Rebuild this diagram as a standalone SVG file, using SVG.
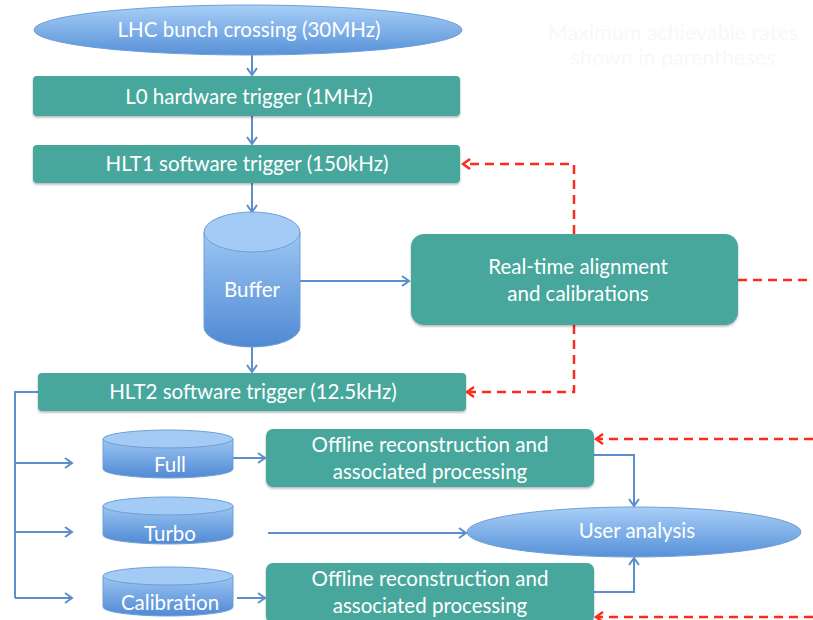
<svg xmlns="http://www.w3.org/2000/svg" width="813" height="620" viewBox="0 0 813 620">
<style>
.t{font-family:Lato,"Open Sans","Liberation Sans",sans-serif;fill:#ffffff;text-anchor:middle;font-size:20.5px}
.box{fill:#46a79d;filter:url(#sh)}
.ell{fill:url(#gb);stroke:#6f9fd6;stroke-width:1}
.cyl{fill:url(#gc);stroke:#6f9fd6;stroke-width:1}
.top{fill:#a3cbf5;stroke:#6f9fd6;stroke-width:1}
.c{fill:none;stroke:#5b8ecd;stroke-width:2;marker-end:url(#ab)}
.cn{fill:none;stroke:#5b8ecd;stroke-width:2}
.r{fill:none;stroke:#ff2a1a;stroke-width:2.5;stroke-dasharray:9 6}
.ra{fill:none;stroke:#ff2a1a;stroke-width:2.5;stroke-dasharray:9 6;marker-end:url(#ar)}
.faint{font-family:Lato,"Open Sans","Liberation Sans",sans-serif;fill:#f8f8f8;text-anchor:middle;font-size:21.5px}
</style>
<defs>
<linearGradient id="gb" x1="0" y1="0" x2="0" y2="1"><stop offset="0" stop-color="#a8cff7"/><stop offset="1" stop-color="#5791d8"/></linearGradient>
<linearGradient id="gc" x1="0" y1="0" x2="0" y2="1"><stop offset="0" stop-color="#9cc6f3"/><stop offset="1" stop-color="#5089d4"/></linearGradient>
<filter id="sh" x="-5%" y="-20%" width="110%" height="150%"><feDropShadow dx="0" dy="1.5" stdDeviation="1.2" flood-color="#000" flood-opacity="0.3"/></filter>
<marker id="ab" viewBox="0 0 12 12" refX="10" refY="6" markerWidth="12" markerHeight="12" markerUnits="userSpaceOnUse" orient="auto"><path d="M3,1 L10,6 L3,11" fill="none" stroke="#5b8ecd" stroke-width="2"/></marker>
<marker id="ar" viewBox="0 0 12 12" refX="10" refY="6" markerWidth="12" markerHeight="12" markerUnits="userSpaceOnUse" orient="auto"><path d="M3,1 L10,6 L3,11" fill="none" stroke="#ff2a1a" stroke-width="2.5"/></marker>
</defs>
<rect width="813" height="620" fill="#ffffff"/>
<text class="faint" x="673" y="40">Maximum achievable rates</text>
<text class="faint" x="673" y="65">shown in parentheses</text>
<g id="connectors">
<line class="c" x1="252" y1="55" x2="252" y2="75"/>
<line class="c" x1="252" y1="116" x2="252" y2="144"/>
<line class="c" x1="252" y1="183" x2="252" y2="212"/>
<line class="c" x1="252" y1="347" x2="252" y2="372"/>
<line class="c" x1="300" y1="281" x2="409" y2="281"/>
<path class="cn" d="M38,392 H15 V598"/>
<line class="c" x1="15" y1="463" x2="72" y2="463"/>
<line class="c" x1="15" y1="532" x2="72" y2="532"/>
<line class="c" x1="15" y1="598" x2="72" y2="598"/>
<line class="c" x1="233" y1="458" x2="265" y2="458"/>
<line class="c" x1="237" y1="598" x2="265" y2="598"/>
<line class="c" x1="268" y1="533" x2="466" y2="533"/>
<path class="c" d="M594,455 H634 V506"/>
<path class="c" d="M594,592 H634 V558"/>
<path class="ra" d="M574,234 V164 H463"/>
<path class="ra" d="M574,325 V392 H467"/>
<path class="r" d="M738,280 H813"/>
<path class="ra" d="M813,439 H596"/>
<path class="ra" d="M813,617 H596"/>
</g>
<g id="lhc">
<ellipse class="ell" cx="248" cy="30" rx="214" ry="25"/>
<text class="t" x="249" y="37">LHC bunch crossing (30MHz)</text>
</g>
<g id="l0">
<rect class="box" x="33" y="76" width="427" height="40" rx="4"/>
<text class="t" x="249" y="104">L0 hardware trigger (1MHz)</text>
</g>
<g id="hlt1">
<rect class="box" x="33" y="145" width="427" height="38" rx="4"/>
<text class="t" x="247" y="171">HLT1 software trigger (150kHz)</text>
</g>
<g id="buffer">
<path class="cyl" d="M204,232 V327 A48,20 0 0 0 300,327 V232"/>
<ellipse class="top" cx="252" cy="232" rx="48" ry="20"/>
<text class="t" x="252" y="297">Buffer</text>
</g>
<g id="realtime">
<rect class="box" x="411" y="234" width="327" height="91" rx="13"/>
<text class="t" x="578" y="274">Real-time alignment</text>
<text class="t" x="578" y="301">and calibrations</text>
</g>
<g id="hlt2">
<rect class="box" x="38" y="373" width="428" height="38" rx="4"/>
<text class="t" x="253" y="399">HLT2 software trigger (12.5kHz)</text>
</g>
<g id="full">
<path class="cyl" d="M103,439 V469 A65,9 0 0 0 233,469 V439"/>
<ellipse class="top" cx="168" cy="439" rx="65" ry="9"/>
<text class="t" x="170" y="472">Full</text>
</g>
<g id="turbo">
<path class="cyl" d="M103,506 V535 A65,9 0 0 0 233,535 V506"/>
<ellipse class="top" cx="168" cy="506" rx="65" ry="9"/>
<text class="t" x="170" y="541">Turbo</text>
</g>
<g id="calibration">
<path class="cyl" d="M103,576 V607 A65,9 0 0 0 233,607 V576"/>
<ellipse class="top" cx="168" cy="576" rx="65" ry="9"/>
<text class="t" x="170" y="610">Calibration</text>
</g>
<g id="offline1">
<rect class="box" x="266" y="429" width="328" height="58" rx="7"/>
<text class="t" x="430" y="452">Offline reconstruction and</text>
<text class="t" x="430" y="479">associated processing</text>
</g>
<g id="user">
<ellipse class="ell" cx="634" cy="532" rx="167" ry="25"/>
<text class="t" x="637" y="538">User analysis</text>
</g>
<g id="offline2">
<rect class="box" x="266" y="563" width="328" height="60" rx="7"/>
<text class="t" x="430" y="586">Offline reconstruction and</text>
<text class="t" x="430" y="613">associated processing</text>
</g>
</svg>
